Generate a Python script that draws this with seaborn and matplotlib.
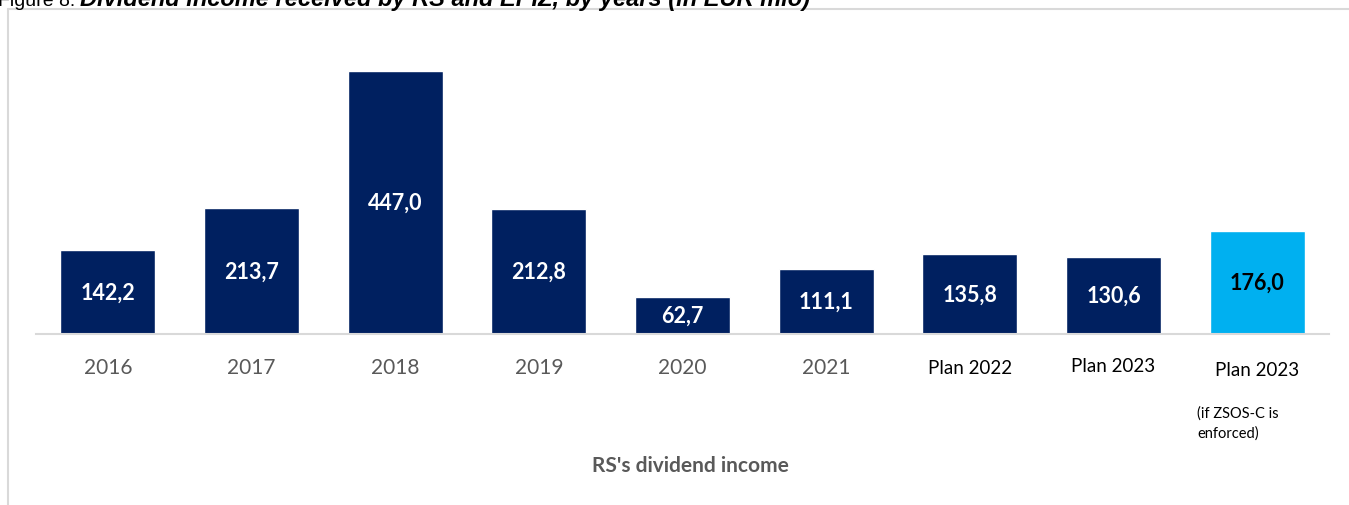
import matplotlib
matplotlib.use("Agg")
import matplotlib.pyplot as plt
import seaborn as sns
import pandas as pd
from matplotlib.lines import Line2D
import matplotlib.transforms as mtransforms

categories = ["2016", "2017", "2018", "2019", "2020", "2021", "Plan 2022", "Plan 2023", "Plan 2023 (ZSOS-C)"]
tick_labels = ["2016", "2017", "2018", "2019", "2020", "2021", "Plan 2022", "Plan 2023", "Plan 2023"]
values = [142.2, 213.7, 447.0, 212.8, 62.7, 111.1, 135.8, 130.6, 176.0]
value_labels = ["142,2", "213,7", "447,0", "212,8", "62,7", "111,1", "135,8", "130,6", "176,0"]
bar_colors = ["#002060"] * 8 + ["#00B0F0"]
label_colors = ["white"] * 8 + ["black"]
note_text = "(if ZSOS-C is\nenforced)"
axis_title = "RS's dividend income"
title_regular = "Figure 8:"
title_bold = "Dividend income received by RS and EPIZ, by years (in EUR mio)"

sns.set_theme(style="white")
plt.rcParams["font.family"] = ["Lato", "DejaVu Sans"]

W, H = 1349, 506
fig = plt.figure(figsize=(W / 100, H / 100), dpi=100)
ax_left, ax_right = 36 / W, 1329 / W
ax_bottom = (H - 335) / H
ax_top = (H - 30) / H
ax = fig.add_axes([ax_left, ax_bottom, ax_right - ax_left, ax_top - ax_bottom])

df = pd.DataFrame({"cat": categories, "val": values})
sns.barplot(data=df, x="cat", y="val", hue="cat", palette=bar_colors,
            width=0.66, legend=False, ax=ax, saturation=1)

ax.set_ylim(0, (335 - 30) / 0.588)
ax.set_xlim(-0.5, len(categories) - 0.5)
for s in ["top", "right", "left"]:
    ax.spines[s].set_visible(False)
ax.spines["bottom"].set_color("#D9D9D9")
ax.spines["bottom"].set_linewidth(1.5)
ax.set_yticks([])
ax.set_xticks([])
ax.set_xlabel("")
ax.set_ylabel("")

for i, (v, lab) in enumerate(zip(values, value_labels)):
    ax.text(i, v / 2, lab, ha="center", va="center", color=label_colors[i],
            fontsize=15.5, fontweight="bold")

# category labels below the axis
def px_below(dy):
    return mtransforms.blended_transform_factory(ax.transData, ax.transAxes) + \
        mtransforms.ScaledTranslation(0, -dy / 100, fig.dpi_scale_trans)

label_offsets = [33, 33, 33, 33, 33, 33, 34, 31, 36]
for i, t in enumerate(tick_labels):
    is_plan = t.startswith("Plan")
    ax.text(i, 0, t, ha="center", va="center",
            color="black" if is_plan else "#595959",
            fontsize=13.5 if is_plan else 15,
            transform=px_below(label_offsets[i]), clip_on=False)

ax.text(len(categories) - 1, 0, note_text, ha="left", va="top",
        fontsize=10.5, color="black", linespacing=1.55,
        transform=px_below(71) + mtransforms.ScaledTranslation(-0.6, 0, fig.dpi_scale_trans),
        clip_on=False)

fig.text(690 / W, 1 - 466 / H, axis_title, ha="center", va="center",
         fontsize=15, fontweight="bold", color="#595959")

# frame lines
fig.add_artist(Line2D([8 / W, 8 / W], [0, 1 - 10 / H], transform=fig.transFigure,
                      color="#D9D9D9", lw=1.5))
fig.add_artist(Line2D([8 / W, 1], [1 - 10 / H, 1 - 10 / H], transform=fig.transFigure,
                      color="#D9D9D9", lw=1.5))

# cut-off title
t1 = fig.text(-2 / W, 1 - 6 / H, title_regular, ha="left", va="baseline", fontsize=14,
              color="black", family=["Liberation Sans", "DejaVu Sans"])
fig.canvas.draw()
x_end = t1.get_window_extent().x1
t2 = fig.text((x_end + 5) / W, 1 - 6 / H, title_bold, ha="left", va="baseline", fontsize=17,
              fontweight="bold", fontstyle="italic", color="black",
              family=["Liberation Sans", "DejaVu Sans"])

fig.savefig("out.png", dpi=100)
